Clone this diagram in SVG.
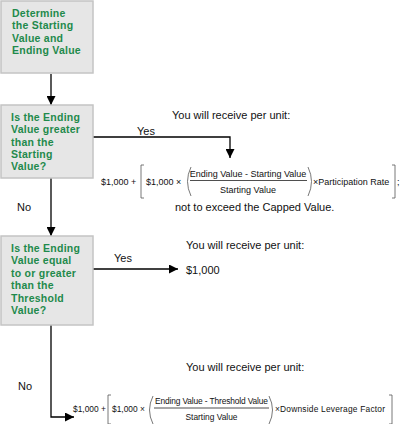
<svg xmlns="http://www.w3.org/2000/svg" width="400" height="424" viewBox="0 0 400 424">
<style>
.box{fill:#e6e6e6;stroke:#c4c4c4;stroke-width:1.5}
.bt{font-family:"Liberation Sans",Arial,sans-serif;font-size:10.5px;font-weight:bold;fill:#1f8a4c;letter-spacing:0.25px}
.t{font-family:"Liberation Sans",Arial,sans-serif;font-size:11px;fill:#111}
.f1{font-family:"Liberation Sans",Arial,sans-serif;font-size:9px;fill:#111}
.f2{font-family:"Liberation Sans",Arial,sans-serif;font-size:8.4px;fill:#111}
.c{fill:none;stroke:#000;stroke-width:1.3}
.br{fill:none;stroke:#555;stroke-width:0.8}
.fl{stroke:#222;stroke-width:0.8}
</style>
<defs>
<marker id="ah" markerUnits="userSpaceOnUse" markerWidth="10" markerHeight="9" refX="9" refY="4.5" orient="auto">
<path d="M0,0 L9,4.5 L0,9 Z" fill="#000"/>
</marker>
</defs>
<g id="connectors">
<line class="c" x1="51" y1="74" x2="51" y2="105" marker-end="url(#ah)"/>
<polyline class="c" points="93,137 230,137 230,158" marker-end="url(#ah)"/>
<line class="c" x1="51" y1="178" x2="51" y2="236" marker-end="url(#ah)"/>
<line class="c" x1="93" y1="269" x2="178" y2="269" marker-end="url(#ah)"/>
<polyline class="c" points="51,325 51,417 74,417" marker-end="url(#ah)"/>
<text class="t" x="137" y="135">Yes</text>
<text class="t" x="17" y="211">No</text>
<text class="t" x="114" y="262">Yes</text>
<text class="t" x="18" y="390">No</text>
</g>
<g id="box1">
<rect class="box" x="1" y="1" width="92" height="72"/>
<text class="bt" x="12" y="17">Determine</text>
<text class="bt" x="12" y="29.3">the Starting</text>
<text class="bt" x="12" y="41.6">Value and</text>
<text class="bt" x="12" y="54">Ending Value</text>
</g>
<g id="box2">
<rect class="box" x="1" y="105" width="92" height="73"/>
<text class="bt" x="11" y="121">Is the Ending</text>
<text class="bt" x="11" y="133.3">Value greater</text>
<text class="bt" x="11" y="145.6">than the</text>
<text class="bt" x="11" y="158">Starting</text>
<text class="bt" x="11" y="170.3">Value?</text>
</g>
<g id="box3">
<rect class="box" x="1" y="236" width="92" height="89"/>
<text class="bt" x="11" y="252">Is the Ending</text>
<text class="bt" x="11" y="264.4">Value equal</text>
<text class="bt" x="11" y="276.8">to or greater</text>
<text class="bt" x="11" y="289.2">than the</text>
<text class="bt" x="11" y="301.6">Threshold</text>
<text class="bt" x="11" y="314">Value?</text>
</g>
<g id="outcome1">
<text class="t" x="172" y="119">You will receive per unit:</text>
<text class="f1" x="101" y="185">$1,000 +</text>
<path class="br" d="M144,165 H141 V198 H144"/>
<text class="f1" x="146" y="185">$1,000 ×</text>
<path class="br" d="M191,167 Q184,181.5 191,196"/>
<text class="f1" x="248" y="177" text-anchor="middle">Ending  Value - Starting  Value</text>
<line class="fl" x1="190" y1="180.5" x2="307" y2="180.5"/>
<text class="f1" x="248" y="193" text-anchor="middle">Starting  Value</text>
<path class="br" d="M308,167 Q315,181.5 308,196"/>
<text class="f1" x="313" y="185">×Participation Rate</text>
<path class="br" d="M392,165 H395 V198 H392"/>
<text class="f1" x="397" y="185">;</text>
<text class="t" x="175" y="211">not to exceed the Capped Value.</text>
</g>
<g id="outcome2">
<text class="t" x="186" y="249">You will receive per unit:</text>
<text class="t" x="186" y="274">$1,000</text>
</g>
<g id="outcome3">
<text class="t" x="186" y="371">You will receive per unit:</text>
<text class="f2" x="73" y="412">$1,000 +</text>
<path class="br" d="M111,395 H108 V424 H111"/>
<text class="f2" x="112" y="412">$1,000 ×</text>
<path class="br" d="M153,396 Q146,410 153,424"/>
<text class="f2" x="211.5" y="404" text-anchor="middle" textLength="113">Ending Value - Threshold Value</text>
<line class="fl" x1="154" y1="408" x2="269" y2="408"/>
<text class="f2" x="211.5" y="420" text-anchor="middle">Starting Value</text>
<path class="br" d="M269,396 Q276,410 269,424"/>
<text class="f2" x="275" y="412" textLength="110">×Downside Leverage  Factor</text>
<path class="br" d="M389,395 H392 V424 H389"/>
</g>
</svg>
